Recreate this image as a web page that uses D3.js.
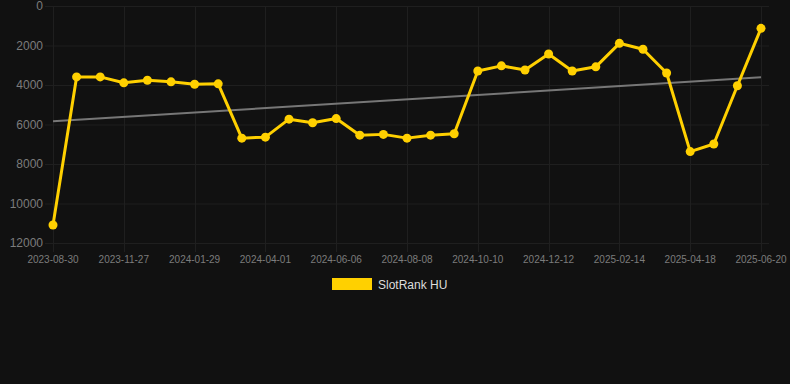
<!DOCTYPE html>
<html>
<head>
<meta charset="utf-8">
<script src="https://cdn.jsdelivr.net/npm/d3@7"></script>
<style>
  body { margin: 0; background: #111111; }
  svg { display: block; font-family: "Liberation Sans", Arial, sans-serif; }
</style>
</head>
<body>
<div id="chart"></div>
<script>
  var width = 790, height = 384
  var margin = {top: 6, right: 29, bottom: 141, left: 53}

  // every 3rd date is printed on the axis
  var dates = ["2023-08-30","2023-09-29","2023-10-29","2023-11-27","2023-12-18","2024-01-08",
               "2024-01-29","2024-02-19","2024-03-11","2024-04-01","2024-04-23","2024-05-15",
               "2024-06-06","2024-06-27","2024-07-18","2024-08-08","2024-08-29","2024-09-19",
               "2024-10-10","2024-10-31","2024-11-21","2024-12-12","2025-01-02","2025-01-23",
               "2025-02-14","2025-03-07","2025-03-28","2025-04-18","2025-05-09","2025-05-30",
               "2025-06-20"]
  var rank = [11090, 3590, 3590, 3890, 3760, 3840, 3960, 3940, 6690, 6640,
              5730, 5910, 5700, 6540, 6500, 6690, 6540, 6470, 3290, 3030,
              3240, 2430, 3290, 3080, 1890, 2190, 3390, 7370, 6990, 4040,
              1130]
  var yTicks = [0, 2000, 4000, 6000, 8000, 10000, 12000]
  var seriesName = "SlotRank HU"

  var lineColor = "#FFD000"
  var gridColor = "#1f1f1f"

  var svg = d3.select("#chart").append("svg")
              .attr("width", width)
              .attr("height", height)

  svg.append("rect").attr("width", width).attr("height", height).attr("fill", "#111111")

  var x = d3.scalePoint()
            .domain(dates)
            .range([margin.left, width - margin.right])
  var y = d3.scaleLinear()
            .domain([0, 12000])
            .range([margin.top, height - margin.bottom])

  //horizontal grid
  svg.append("g")
     .selectAll("line")
     .data(yTicks)
     .enter().append("line")
     .attr("x1", 45).attr("x2", width - margin.right + 8)
     .attr("y1", function(d){ return y(d) + 0.5 })
     .attr("y2", function(d){ return y(d) + 0.5 })
     .attr("stroke", gridColor).attr("stroke-width", 1)

  //vertical grid at labelled dates
  var labelled = dates.filter(function(d, i){ return i % 3 == 0 })
  svg.append("g")
     .selectAll("line")
     .data(labelled)
     .enter().append("line")
     .attr("x1", function(d){ return Math.round(x(d)) + 0.5 })
     .attr("x2", function(d){ return Math.round(x(d)) + 0.5 })
     .attr("y1", margin.top).attr("y2", y(12000) + 9)
     .attr("stroke", gridColor).attr("stroke-width", 1)

  //y labels
  svg.append("g")
     .selectAll("text")
     .data(yTicks)
     .enter().append("text")
     .attr("x", 43)
     .attr("y", function(d){ return y(d) + 4 })
     .attr("text-anchor", "end")
     .attr("fill", "#7c7c7c")
     .style("font-size", "12px")
     .text(function(d){ return d })

  //x labels
  svg.append("g")
     .selectAll("text")
     .data(labelled)
     .enter().append("text")
     .attr("x", function(d){ return x(d) })
     .attr("y", 263)
     .attr("text-anchor", "middle")
     .attr("fill", "#7c7c7c")
     .style("font-size", "10px")
     .text(function(d){ return d })

  //trend line (least squares over the index)
  var n = rank.length
  var mx = d3.mean(d3.range(n)), my = d3.mean(rank)
  var sxy = d3.sum(rank, function(v, i){ return (i - mx) * (v - my) })
  var sxx = d3.sum(d3.range(n), function(i){ return (i - mx) * (i - mx) })
  var slope = sxy / sxx, icpt = my - slope * mx
  svg.append("line")
     .attr("x1", x(dates[0])).attr("y1", y(icpt))
     .attr("x2", x(dates[n - 1])).attr("y2", y(icpt + slope * (n - 1)))
     .attr("stroke", "#777777").attr("stroke-width", 2)

  //series
  var line = d3.line()
               .x(function(d, i){ return x(dates[i]) })
               .y(function(d){ return y(d) })
  svg.append("path")
     .datum(rank)
     .attr("d", line)
     .attr("fill", "none")
     .attr("stroke", lineColor)
     .attr("stroke-width", 3)
     .attr("stroke-linejoin", "round")

  svg.append("g")
     .selectAll("circle")
     .data(rank)
     .enter().append("circle")
     .attr("cx", function(d, i){ return x(dates[i]) })
     .attr("cy", function(d){ return y(d) })
     .attr("r", 4.5)
     .attr("fill", lineColor)

  //legend
  var legend = svg.append("g")
  legend.append("rect")
        .attr("x", 332).attr("y", 278)
        .attr("width", 40).attr("height", 12)
        .attr("fill", lineColor)
  legend.append("text")
        .attr("x", 378).attr("y", 289)
        .attr("fill", "#dddddd")
        .style("font-size", "12px")
        .text(seriesName)
</script>
</body>
</html>
